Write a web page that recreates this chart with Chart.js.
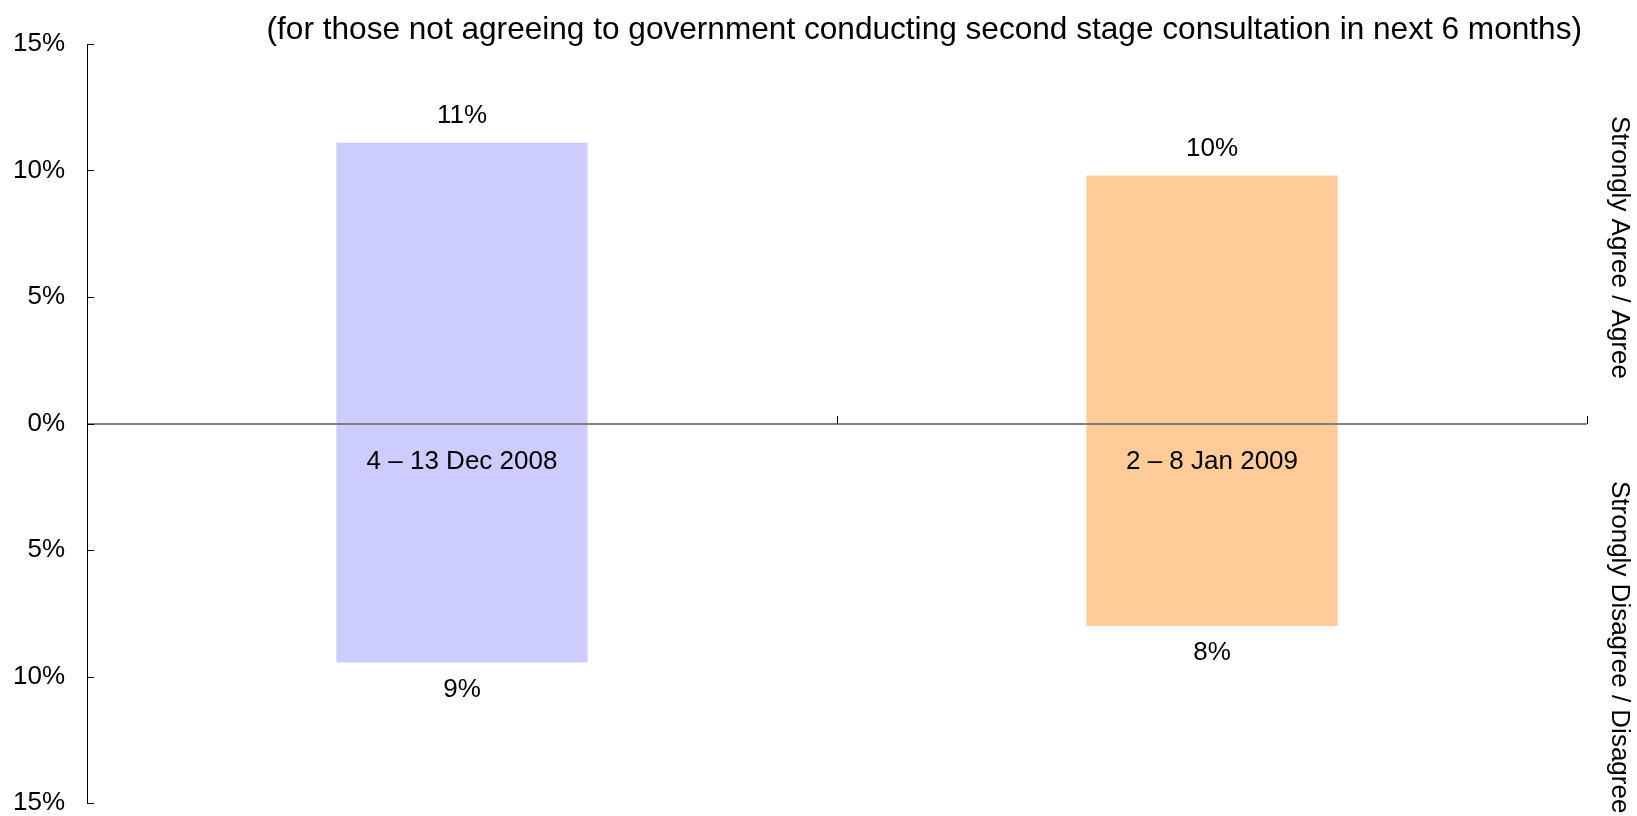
<!DOCTYPE html>
<html>
<head>
<meta charset="utf-8">
<script src="https://cdn.jsdelivr.net/npm/chart.js@4.4.0/dist/chart.umd.min.js"></script>
<style>
  html, body { margin: 0; padding: 0; background: #fff; }
  #wrap { width: 1637px; height: 816px; }
</style>
</head>
<body>
<div id="wrap"><canvas id="consultChart"></canvas></div>
<script>
// survey waves
var waves = ["4 – 13 Dec 2008", "2 – 8 Jan 2009"]
// % of respondents per wave
var agreeValues = [11.1, 9.8]
var disagreeValues = [9.45, 8.0]
var waveColours = ["#CCCCFF", "#FFCC99"]
var yTicks = [-15, -10, -5, 0, 5, 10, 15]
var titleText = "(for those not agreeing to government conducting second stage consultation in next 6 months)"
var sideLabels = ["Strongly Agree / Agree", "Strongly Disagree / Disagree"]

var FONT_FAMILY = '"Liberation Sans", Arial, sans-serif'
var FONT = "26px " + FONT_FAMILY

// zero line, inner tick marks, value labels, wave names, side captions
var annotate = {
  id: "annotate",
  afterDatasetsDraw: function (chart) {
    var ctx = chart.ctx
    var area = chart.chartArea
    var xs = chart.scales.x
    var ys = chart.scales.y
    var zeroY = Math.round(ys.getPixelForValue(0))

    ctx.save()

    // axis line at 0
    ctx.strokeStyle = "#808080"
    ctx.lineWidth = 2
    ctx.beginPath()
    ctx.moveTo(area.left, zeroY)
    ctx.lineTo(area.right, zeroY)
    ctx.stroke()

    // category boundary ticks, pointing up
    ctx.strokeStyle = "#000"
    ctx.lineWidth = 1
    var half = (xs.getPixelForValue(1) - xs.getPixelForValue(0)) / 2
    for (var i = 0; i <= waves.length; i++) {
      var bx = Math.round(xs.getPixelForValue(i) - half) + 0.5
      ctx.beginPath()
      ctx.moveTo(bx, zeroY - 8)
      ctx.lineTo(bx, zeroY)
      ctx.stroke()
    }

    // y ticks, pointing into the plot
    ys.ticks.forEach(function (t) {
      var ty = Math.round(ys.getPixelForValue(t.value)) + 0.5
      ctx.beginPath()
      ctx.moveTo(area.left, ty)
      ctx.lineTo(area.left + 7, ty)
      ctx.stroke()
    })

    ctx.fillStyle = "#000"
    ctx.font = FONT
    ctx.textBaseline = "middle"
    ctx.textAlign = "center"

    var agreeBars = chart.getDatasetMeta(0).data
    var disagreeBars = chart.getDatasetMeta(1).data
    for (var j = 0; j < waves.length; j++) {
      ctx.fillText(Math.round(agreeValues[j]) + "%", agreeBars[j].x, agreeBars[j].y - 27)
      ctx.fillText(Math.round(disagreeValues[j]) + "%", disagreeBars[j].x, disagreeBars[j].y + 27)
      ctx.fillText(waves[j], agreeBars[j].x, zeroY + 38)
    }

    // subtitle
    ctx.font = "31.6px " + FONT_FAMILY
    ctx.textAlign = "right"
    ctx.fillText(titleText, area.right - 5, 30)

    // side captions, reading downwards
    ctx.font = FONT
    ctx.textAlign = "left"
    var starts = [zeroY - 308, zeroY + 57]
    for (var k = 0; k < sideLabels.length; k++) {
      ctx.save()
      ctx.translate(area.right + 32, starts[k])
      ctx.rotate(Math.PI / 2)
      ctx.fillText(sideLabels[k], 0, 0)
      ctx.restore()
    }

    ctx.restore()
  },
}

var ctx = document.getElementById("consultChart").getContext("2d")

new Chart(ctx, {
  type: "bar",
  data: {
    labels: waves,
    datasets: [
      {
        label: "Agree",
        data: agreeValues,
        backgroundColor: waveColours,
      },
      {
        label: "Disagree",
        data: disagreeValues.map(function (v) { return -v }),
        backgroundColor: waveColours,
      },
    ],
  },
  options: {
    responsive: true,
    maintainAspectRatio: false,
    animation: false,
    devicePixelRatio: 1,
    categoryPercentage: 1,
    barPercentage: 0.335,
    layout: {
      padding: { top: 44, bottom: 13, left: 0, right: 50 },
    },
    plugins: {
      legend: { display: false },
      title: { display: false },
      tooltip: { enabled: false },
    },
    scales: {
      x: {
        display: false,
        stacked: true,
        offset: true,
      },
      y: {
        stacked: true,
        min: yTicks[0],
        max: yTicks[yTicks.length - 1],
        afterBuildTicks: function (scale) {
          scale.ticks = yTicks.map(function (v) { return { value: v } })
        },
        ticks: {
          padding: 22,
          color: "#000",
          font: { family: FONT_FAMILY, size: 26 },
          callback: function (v) { return Math.abs(v) + "%" },
        },
        grid: { display: false, drawTicks: false },
        border: { display: true, color: "#000", width: 1 },
        afterFit: function (scale) {
          scale.width = 87
          scale.paddingTop = 0
          scale.paddingBottom = 0
        },
      },
    },
  },
  plugins: [annotate],
})
</script>
</body>
</html>
